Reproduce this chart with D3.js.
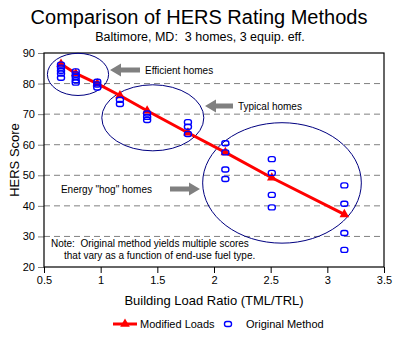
<!DOCTYPE html>
<html>
<head>
<meta charset="utf-8">
<script src="https://cdn.jsdelivr.net/npm/d3@7/dist/d3.min.js"></script>
<style>
body { margin: 0; background: #fff; }
text { font-family: "Liberation Sans", Arial, sans-serif; fill: #000; white-space: pre; }
</style>
</head>
<body>
<div class="chart"></div>
<script>
// building load ratio for each home / equipment case
var loadRatio = [0.65, 0.78, 0.97, 1.17, 1.41, 1.77, 2.10, 2.51, 3.15];
// HERS score, modified loads method
var modifiedLoads = [86.4, 83.3, 80.0, 76.1, 71.1, 63.9, 57.5, 49.2, 37.2];
// HERS scores, original method (one per end-use fuel type)
var originalMethod = [
	[86.2, 85.2, 84.2, 83.3, 81.9],
	[84.0, 83.0, 82.2, 81.1, 80.3],
	[80.6, 79.7, 78.7],
	[74.7, 73.3],
	[70.2, 69.1, 68.1],
	[67.4, 65.9, 63.5],
	[60.5, 57.5, 51.9, 48.8],
	[55.3, 50.8, 43.6, 39.5],
	[46.7, 40.7, 31.1, 25.6]
];
var xTicks = [0.5, 1, 1.5, 2, 2.5, 3, 3.5];
var yTicks = [20, 30, 40, 50, 60, 70, 80, 90];

var x = d3.scaleLinear().domain([0.5, 3.5]).range([44, 384]);
var y = d3.scaleLinear().domain([20, 90]).range([267, 53]);

var svg = d3.select(".chart").append("svg")
	.attr("width", 399)
	.attr("height", 340);

// titles
svg.append("text").attr("x", 199).attr("y", 24).attr("text-anchor", "middle")
	.style("font-size", "20px").text("Comparison of HERS Rating Methods");
svg.append("text").attr("x", 200).attr("y", 40.5).attr("text-anchor", "middle")
	.style("font-size", "12.5px").text("Baltimore, MD:  3 homes, 3 equip. eff.");

// grid lines
svg.append("g").selectAll("line").data(yTicks.slice(1, -1)).enter().append("line")
	.attr("x1", x(0.5)).attr("x2", x(3.5))
	.attr("y1", function(d) { return y(d); }).attr("y2", function(d) { return y(d); })
	.attr("stroke", "#808080").attr("stroke-dasharray", "6,4");

// axes
var xAxis = svg.append("g").attr("transform", "translate(0," + y(20) + ")")
	.call(d3.axisBottom(x).tickValues(xTicks).tickFormat(d3.format("")).tickSize(6).tickPadding(3));
xAxis.select(".domain").remove();
xAxis.selectAll("text").style("font-size", "11px");
xAxis.selectAll("line").attr("stroke", "#000");

var yAxis = svg.append("g").attr("transform", "translate(" + x(0.5) + ",0)")
	.call(d3.axisLeft(y).tickValues(yTicks).tickSize(6).tickPadding(3));
yAxis.select(".domain").remove();
yAxis.selectAll("text").style("font-size", "11px");
yAxis.selectAll("line").attr("stroke", "#808080");

// plot frame
svg.append("rect").attr("x", x(0.5)).attr("y", y(90))
	.attr("width", x(3.5) - x(0.5)).attr("height", y(20) - y(90))
	.attr("fill", "none").attr("stroke", "#000").attr("stroke-width", 1.2);

svg.append("text").attr("transform", "translate(19," + y(55) + ") rotate(-90)")
	.attr("text-anchor", "middle").style("font-size", "13px").text("HERS Score");
svg.append("text").attr("x", (x(0.5) + x(3.5)) / 2).attr("y", 305).attr("text-anchor", "middle")
	.style("font-size", "13px").text("Building Load Ratio (TML/TRL)");

// group ellipses
function groupEllipse(cx, cy, rx, ry) {
	svg.append("ellipse")
		.attr("cx", x(cx)).attr("cy", y(cy))
		.attr("rx", x(cx + rx) - x(cx)).attr("ry", y(cy - ry) - y(cy))
		.attr("fill", "none").attr("stroke", "#000080").attr("stroke-width", 1);
}
groupEllipse(0.80, 83.0, 0.27, 6.9);
groupEllipse(1.46, 68.8, 0.45, 10.8);
groupEllipse(2.60, 47.5, 0.70, 19.7);

// grey block arrows
function arrow(tip, tail, yy) {
	var dir = tail > tip ? 1 : -1;
	var h = tip + dir * 11;
	var pts = [[tip, yy], [h, yy - 6.5], [h, yy - 2.5], [tail, yy - 2.5], [tail, yy + 2.5], [h, yy + 2.5], [h, yy + 6.5]];
	svg.append("polygon").attr("points", pts.map(function(p) { return p.join(","); }).join(" "))
		.attr("fill", "#808080");
}
arrow(110, 140, 70);
svg.append("text").attr("x", 145).attr("y", 73.5).style("font-size", "10px").text("Efficient homes");
arrow(205, 233, 106);
svg.append("text").attr("x", 238).attr("y", 109.5).style("font-size", "10px").text("Typical homes");
arrow(200, 170, 189);
svg.append("text").attr("x", 152).attr("y", 192.5).attr("text-anchor", "end").style("font-size", "10px").text("Energy \"hog\" homes");

// note
svg.append("text").attr("x", 51).attr("y", 247).style("font-size", "10px")
	.text("Note:  Original method yields multiple scores");
svg.append("text").attr("x", 64).attr("y", 258.5).style("font-size", "10px")
	.text("that vary as a function of end-use fuel type.");

// modified loads series
var line = d3.line().x(function(d, i) { return x(loadRatio[i]); }).y(function(d) { return y(d); });
svg.append("path").datum(modifiedLoads).attr("d", line)
	.attr("fill", "none").attr("stroke", "#ff0000").attr("stroke-width", 3);
var tri = d3.symbol().type(d3.symbolTriangle).size(40);
svg.append("g").selectAll("path").data(modifiedLoads).enter().append("path")
	.attr("d", tri)
	.attr("transform", function(d, i) { return "translate(" + x(loadRatio[i]) + "," + y(d) + ")"; })
	.attr("fill", "#ff0000");

// original method series
var pts = [];
originalMethod.forEach(function(scores, i) {
	scores.forEach(function(s) { pts.push([loadRatio[i], s]); });
});
svg.append("g").selectAll("rect").data(pts).enter().append("rect")
	.attr("x", function(d) { return x(d[0]) - 3.5; })
	.attr("y", function(d) { return y(d[1]) - 2.5; })
	.attr("width", 7).attr("height", 5).attr("rx", 2.2)
	.attr("fill", "none").attr("stroke", "#0000ff").attr("stroke-width", 1.4);

// legend
svg.append("line").attr("x1", 113).attr("x2", 137).attr("y1", 324).attr("y2", 324)
	.attr("stroke", "#ff0000").attr("stroke-width", 3);
svg.append("path").attr("d", tri).attr("transform", "translate(125,324)").attr("fill", "#ff0000");
svg.append("text").attr("x", 140).attr("y", 328).style("font-size", "11px").text("Modified Loads");
svg.append("rect").attr("x", 224.5).attr("y", 321.5).attr("width", 7).attr("height", 5).attr("rx", 2.2)
	.attr("fill", "none").attr("stroke", "#0000ff").attr("stroke-width", 1.4);
svg.append("text").attr("x", 246).attr("y", 328).style("font-size", "11px").text("Original Method");
</script>
</body>
</html>
